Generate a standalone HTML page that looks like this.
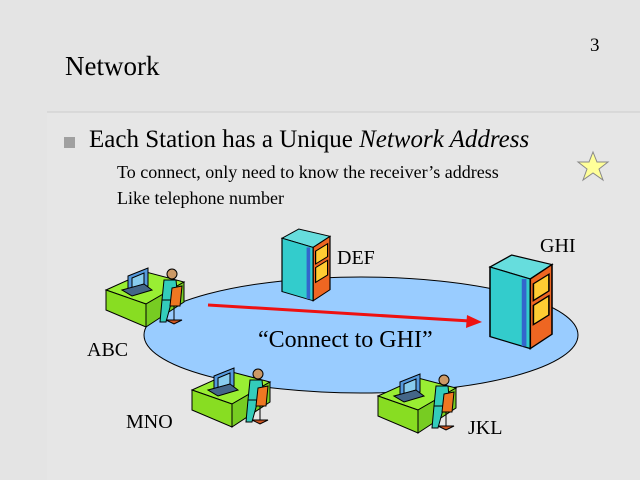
<!DOCTYPE html>
<html><head><style>
html,body{margin:0;padding:0;background:#e4e4e4;}
svg{display:block;font-family:"Liberation Serif",serif;}
</style></head><body>
<svg width="640" height="480" viewBox="0 0 640 480" xmlns="http://www.w3.org/2000/svg">
<defs>
<g id="ws">
  <polygon points="0,18 40,0 78,10 40,32" fill="#99ee33" stroke="#000" stroke-width="1"/>
  <polygon points="0,18 40,32 40,55 0,38" fill="#88dd22" stroke="#000"/>
  <polygon points="40,32 78,10 78,30 40,55" fill="#77cc22" stroke="#000"/>
  <polygon points="22,4 42,-4 42,14 22,20" fill="#5599dd" stroke="#000"/>
  <polygon points="26,6 38,1 38,12 26,16" fill="#88ccee" stroke="#000"/>
  <polygon points="16,18 38,12 46,18 26,24" fill="#446688" stroke="#000"/>
  <circle cx="66" cy="2" r="5" fill="#cc9966" stroke="#000"/>
  <polygon points="58,8 70,8 72,28 56,28" fill="#33ccbb" stroke="#000"/>
  <polygon points="56,28 66,28 60,50 54,50" fill="#33ccbb" stroke="#000"/>
  <polygon points="66,16 76,14 74,34 64,34" fill="#ee7722" stroke="#000"/>
  <line x1="68" y1="34" x2="68" y2="48" stroke="#000"/>
  <polygon points="60,48 76,48 68,52" fill="#cc5522" stroke="#000"/>
</g>
<g id="srv">
  <polygon points="0,10 14,0 40,8 26,20" fill="#66dddd" stroke="#000"/>
  <polygon points="0,10 26,20 26,78 0,68" fill="#33cccc" stroke="#000"/>
  <polygon points="26,20 40,8 40,66 26,78" fill="#ee6622" stroke="#000"/>
  <polygon points="28,24 38,16 38,30 28,38" fill="#ffcc33" stroke="#000"/>
  <polygon points="28,42 38,34 38,50 28,58" fill="#ffcc33" stroke="#000"/>
  <line x1="22" y1="20" x2="22" y2="76" stroke="#3366cc" stroke-width="3"/>
</g>
</defs>
<rect x="47" y="112" width="593" height="368" fill="#e6e6e6"/>
<line x1="47" y1="112" x2="640" y2="112" stroke="#cccccc"/>
<text x="65" y="75" font-size="27">Network</text>
<text x="590" y="51" font-size="19">3</text>
<rect x="64" y="137" width="11" height="11" fill="#a0a0a0"/>
<text x="89" y="147" font-size="25">Each Station has a Unique <tspan font-style="italic">Network Address</tspan></text>
<text x="117" y="178" font-size="18">To connect, only need to know the receiver’s address</text>
<text x="117" y="204" font-size="18">Like telephone number</text>
<polygon points="593,152 597,162 608,162 599,169 603,180 593,173 583,180 587,169 578,162 589,162" fill="#ffff99" stroke="#888" />
<ellipse cx="361" cy="335" rx="217" ry="58" fill="#99ccff" stroke="#000"/>
<line x1="208" y1="305" x2="470" y2="321" stroke="#ee1111" stroke-width="3"/>
<polygon points="482,322 467,315 466,328" fill="#ee1111"/>
<text x="258" y="347" font-size="24">“Connect to GHI”</text>
<use href="#ws" transform="translate(106,272)"/>
<use href="#ws" transform="translate(192,372)"/>
<use href="#ws" transform="translate(378,378)"/>
<use href="#srv" transform="translate(282,229) scale(1.2,0.92)"/>
<use href="#srv" transform="translate(490,255) scale(1.55,1.2)"/>
<text x="337" y="264" font-size="20">DEF</text>
<text x="540" y="252" font-size="20">GHI</text>
<text x="87" y="356" font-size="20">ABC</text>
<text x="126" y="428" font-size="20">MNO</text>
<text x="468" y="434" font-size="20">JKL</text>
</svg>
</body></html>
